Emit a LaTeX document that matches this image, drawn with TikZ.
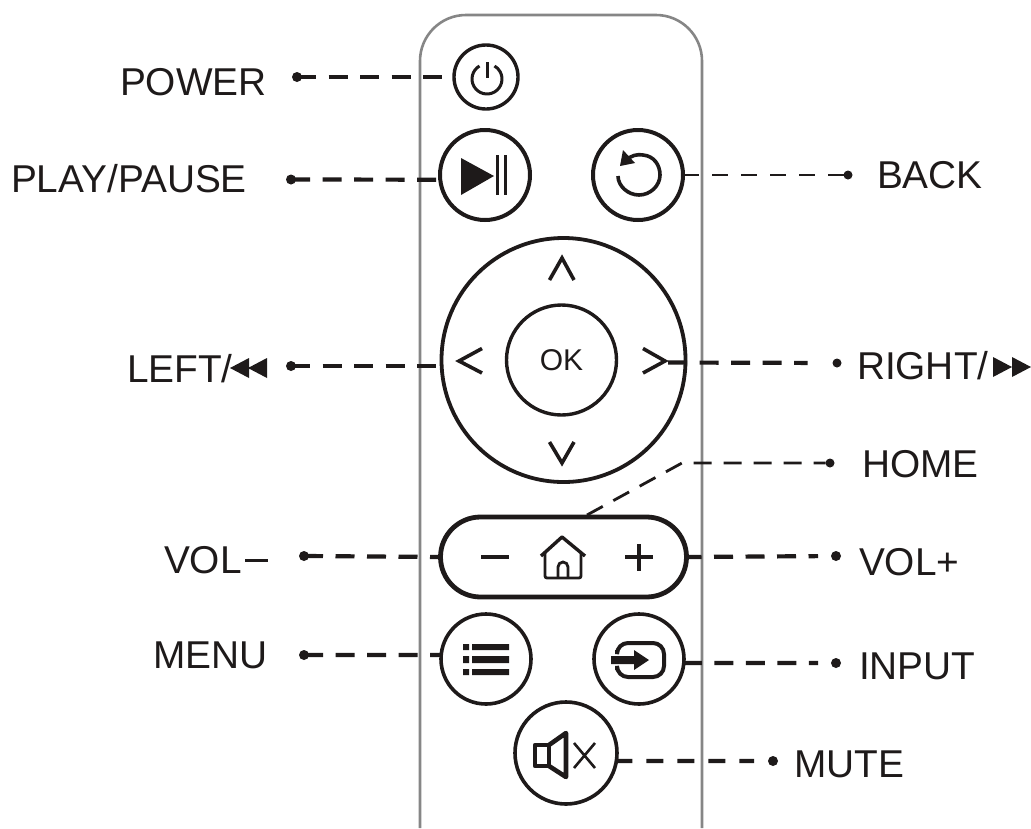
\documentclass[tikz,border=0pt]{standalone}
\usepackage{fontspec}
\setmainfont{Liberation Sans}
\definecolor{ink}{HTML}{1E1A1A}
\definecolor{shell}{HTML}{868686}
\tikzset{
  x=1pt,y=-1pt,
  btn/.style={draw=ink,circle,line width=#1,inner sep=0pt,outer sep=0pt},
  btn/.default=4pt,
  lbl/.style={text=ink,font=\fontsize{38.8}{42}\selectfont,anchor=base west,inner sep=0pt,outer sep=0pt},
  dotn/.style={fill=ink,circle,inner sep=0pt,outer sep=0pt,minimum size=#1},
  dotn/.default=10pt,
  lead/.style={draw=ink,line width=4.2pt,dash pattern=on 19pt off 12.5pt},
  leadthin/.style={draw=ink,line width=2.8pt,dash pattern=on 16pt off 13pt},
  icon/.style={draw=ink,line width=3.6pt},
  iconfill/.style={fill=ink,draw=none},
}
\begin{document}
\begin{tikzpicture}
\useasboundingbox (0,0) rectangle (1031,828);
\fill[white] (0,0) rectangle (1031,828);
% shell
\draw[shell,line width=2.6pt,rounded corners=46pt] (420,828) -- (420,15) -- (702,15) -- (702,828);
% buttons
\node[btn=3.4pt,minimum size=64pt] (power) at (486,77) {};
\node[btn,minimum size=90pt] (play) at (485,175) {};
\node[btn,minimum size=90pt] (back) at (638,175) {};
\node[btn=3.8pt,minimum size=244pt] (dpad) at (563.5,360) {};
\node[btn=3.4pt,minimum size=110pt,font=\fontsize{30}{32}\selectfont,text=ink] (ok) at (561.5,360) {OK};
\node[draw=ink,line width=4.8pt,rounded corners=40pt,minimum width=246pt,minimum height=80pt,inner sep=0pt,outer sep=0pt] (pill) at (563.5,557) {};
\node[btn=3.6pt,minimum size=90pt] (menu) at (486,659) {};
\node[btn=3.6pt,minimum size=90pt] (input) at (639,659) {};
\node[btn=3.6pt,minimum size=102pt] (mute) at (566,753) {};
% power icon
\draw[icon,line width=3pt] (479.5,66) arc[start angle=120,end angle=420,radius=15pt];
\draw[icon,line width=3pt] (487,62) -- (487,78);
% play
\fill[iconfill] (461,158) -- (461,195) -- (494,176) -- cycle;
\draw[icon,line width=3pt] (497,155) -- (497,195) (505.5,155) -- (505.5,195);
% back
\draw[icon,line width=3.6pt] (625,161) .. controls (631,155) and (638,154) .. (643,155) .. controls (654,156) and (660,165) .. (660,175) .. controls (660,186) and (650,195) .. (639,195) .. controls (628,195) and (618,186) .. (618,176);
\fill[iconfill] (623,150) -- (620,166) -- (635,163) -- cycle;
% chevrons
\draw[icon] (549.5,280) -- (562,258) -- (574,280);
\draw[icon] (549.5,442) -- (562,463) -- (574,442);
\draw[icon] (482,348.5) -- (459,361) -- (482,373);
\draw[icon] (643,348.5) -- (665,361) -- (643,373);
% pill icons
\draw[icon,line width=3.4pt] (481,557) -- (509,557);
\draw[icon,line width=3.4pt] (625,557) -- (653,557) (639,544) -- (639,571);
\draw[icon,line width=3.4pt,line join=round] (541,556) -- (562,537) -- (585,556);
\draw[icon,line width=2.8pt,rounded corners=2pt] (545,552) -- (545,578) -- (581,578) -- (581,552);
\draw[icon,line width=2.8pt] (558,578) -- (558,567) arc[start angle=180,end angle=0,radius=5pt] -- (568,578);
% menu icon
\fill[iconfill] (463,644) rectangle (469,650) (472,644) rectangle (509,650);
\fill[iconfill] (463,656) rectangle (469,663) (472,656) rectangle (509,663);
\fill[iconfill] (463,669) rectangle (469,675) (472,669) rectangle (509,675);
% input icon
\draw[icon,line width=4pt,rounded corners=11pt] (617,650) -- (617,643) -- (664,643) -- (664,677) -- (617,677) -- (617,670);
\fill[iconfill] (611,656) -- (634,656) -- (634,650) -- (649,660) -- (634,670) -- (634,664) -- (611,664) -- cycle;
% mute icon
\draw[icon,line width=4.6pt,line join=round] (535,745) rectangle (549,766);
\draw[icon,line width=4.6pt,line join=round] (549,745) -- (566,733) -- (566,777) -- (549,766);
\draw[icon,line width=2.6pt] (574,743) -- (595,768) (595,743) -- (574,768);
% labels
\node[lbl] (tpower) at (120,95) {POWER};
\node[lbl] (tplay) at (11,192) {PLAY/PAUSE};
\node[lbl] (tback) at (877,188) {BACK};
\node[lbl] (tleft) at (127,382.5) {LEFT/};
\node[lbl] (tright) at (857,379) {RIGHT/};
\node[lbl] (thome) at (862,477) {HOME};
\node[lbl] (tvolm) at (164,573) {VOL};
\node[lbl] (tvolp) at (859,575.5) {VOL+};
\node[lbl] (tmenu) at (153,668) {MENU};
\node[lbl] (tinput) at (859,679) {INPUT};
\node[lbl] (tmute) at (794,777) {MUTE};
\draw[ink,line width=3pt] (245,560) -- (268,560);
% arrow glyphs in labels
\fill[iconfill] (230,368) -- (249,358) -- (249,378) -- cycle (248,368) -- (267,358) -- (267,378) -- cycle;
\fill[iconfill] (1012,367) -- (993,357) -- (993,377) -- cycle (1031,367) -- (1012,357) -- (1012,377) -- cycle;
% lead dots
\node[dotn] (dpower) at (297,77) {};
\node[dotn] (dplay) at (291,179.5) {};
\node[dotn=9pt] (dback) at (848,175) {};
\node[dotn] (dleft) at (291,366) {};
\node[dotn=9pt] (dright) at (837,363) {};
\node[dotn=9pt] (dhome) at (830,463) {};
\node[dotn] (dvolm) at (304,556) {};
\node[dotn] (dvolp) at (836,556) {};
\node[dotn] (dmenu) at (304,655) {};
\node[dotn] (dinput) at (836,663) {};
\node[dotn] (dmute) at (773,761) {};
\coordinate (bend) at (682,463);
\coordinate (hometop) at (587,515);
\coordinate (rtip) at (668,362.5);
% leads
\draw[lead] (dpower.center) -- (power.west);
\draw[lead] (dplay.center) -- (play.186);
\draw[leadthin] (back.east) -- (dback);
\draw[lead] (dleft.center) -- (dleft -| dpad.west);
\draw[lead,shorten >=25pt] (rtip) -- (dright);
\draw[leadthin,dash pattern=on 18pt off 12pt] (hometop) -- (bend) -- (dhome);
\draw[lead] (dvolm.center) -- (pill.west);
\draw[lead,dash pattern=on 19pt off 12.5pt,dash phase=4pt,shorten >=13pt] (pill.east) -- (dvolp);
\draw[lead] (dmenu.center) -- (menu.175);
\draw[lead,dash phase=1pt,shorten >=13pt] (input.355) -- (dinput);
\draw[lead,dash pattern=on 17pt off 14pt,dash phase=1pt,shorten >=14pt] (mute.351) -- (dmute);
\end{tikzpicture}
\end{document}
